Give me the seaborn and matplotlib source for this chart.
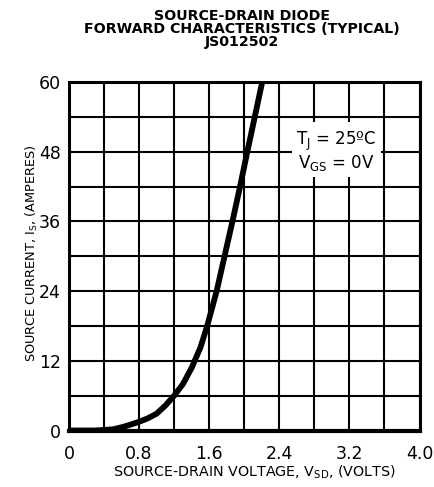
import matplotlib
matplotlib.use("Agg")
import matplotlib.pyplot as plt
import seaborn as sns
import pandas as pd
from matplotlib.ticker import MultipleLocator

# Data
vsd = [0.0, 0.3, 0.5, 0.6, 0.7, 0.8, 0.9, 1.0, 1.1, 1.2, 1.3, 1.4, 1.5, 1.577, 1.685, 1.775, 1.865, 1.952, 2.035, 2.12, 2.205]
i_s = [0.0, 0.0, 0.2, 0.55, 1.0, 1.5, 2.1, 2.9, 4.3, 6.0, 8.0, 10.8, 14.3, 18.0, 24.0, 30.0, 36.0, 42.0, 48.0, 54.0, 60.0]
x_ticks = [0, 0.8, 1.6, 2.4, 3.2, 4.0]
x_tick_labels = ["0", "0.8", "1.6", "2.4", "3.2", "4.0"]
y_ticks = [0, 12, 24, 36, 48, 60]
title_lines = ["SOURCE-DRAIN DIODE", "FORWARD CHARACTERISTICS (TYPICAL)", "JS012502"]

sns.set_theme(style="white")
plt.rcParams['font.family'] = ['DejaVu Sans']
plt.rcParams['mathtext.fontset'] = 'dejavusans'
plt.rcParams['text.color'] = 'black'
plt.rcParams['axes.labelcolor'] = 'black'
plt.rcParams['xtick.color'] = 'black'
plt.rcParams['ytick.color'] = 'black'

fig = plt.figure(figsize=(4.34, 4.87), dpi=100)
ax = fig.add_axes([0.159, 0.116, 0.8076, 0.7156])

df = pd.DataFrame({"vsd": vsd, "is": i_s})
sns.lineplot(data=df, x="vsd", y="is", ax=ax, color="black", linewidth=4.2, zorder=5, sort=False,
             solid_joinstyle="round", solid_capstyle="butt")

ax.set_xlim(0, 4.0)
ax.set_ylim(0, 60)
ax.set_xticks(x_ticks)
ax.set_xticklabels(x_tick_labels)
ax.set_yticks(y_ticks)
ax.xaxis.set_minor_locator(MultipleLocator(0.4))
ax.yaxis.set_minor_locator(MultipleLocator(6))
ax.grid(True, which="both", color="black", linewidth=1.5)
ax.set_axisbelow(True)
for s in ax.spines.values():
    s.set_color("black")
    s.set_linewidth(2.2)
ax.spines["bottom"].set_linewidth(3.0)
ax.tick_params(axis="both", which="major", labelsize=12.5, length=0, labelcolor="black")
ax.tick_params(axis="x", which="major", pad=10.5)
ax.tick_params(axis="y", which="major", pad=6)
ax.tick_params(axis="both", which="minor", length=0)

ax.set_xlabel(r"SOURCE-DRAIN VOLTAGE, V$_\mathrm{SD}$, (VOLTS)", fontsize=10.3, color="black")
ax.set_ylabel(r"SOURCE CURRENT, I$_\mathrm{S}$, (AMPERES)", fontsize=9.3, color="black")
ax.xaxis.set_label_coords(0.528, -0.12)
ax.xaxis.label.set_va("center")
ax.yaxis.set_label_coords(-0.105, 0.51)
ax.yaxis.label.set_va("center")

ax.text(3.05, 48.1, "T$_\\mathrm{J}$ = 25ºC\nV$_\\mathrm{GS}$ = 0V", fontsize=12, ha="center", va="center",
        linespacing=1.0, zorder=6, color="black",
        bbox=dict(facecolor="white", edgecolor="none", pad=3))

fig.text(0.557, 0.981, "\n".join(title_lines), fontsize=10.2, fontweight="bold",
         ha="center", va="top", linespacing=0.92, color="black")

fig.savefig("out.png", dpi=100, facecolor="white")
